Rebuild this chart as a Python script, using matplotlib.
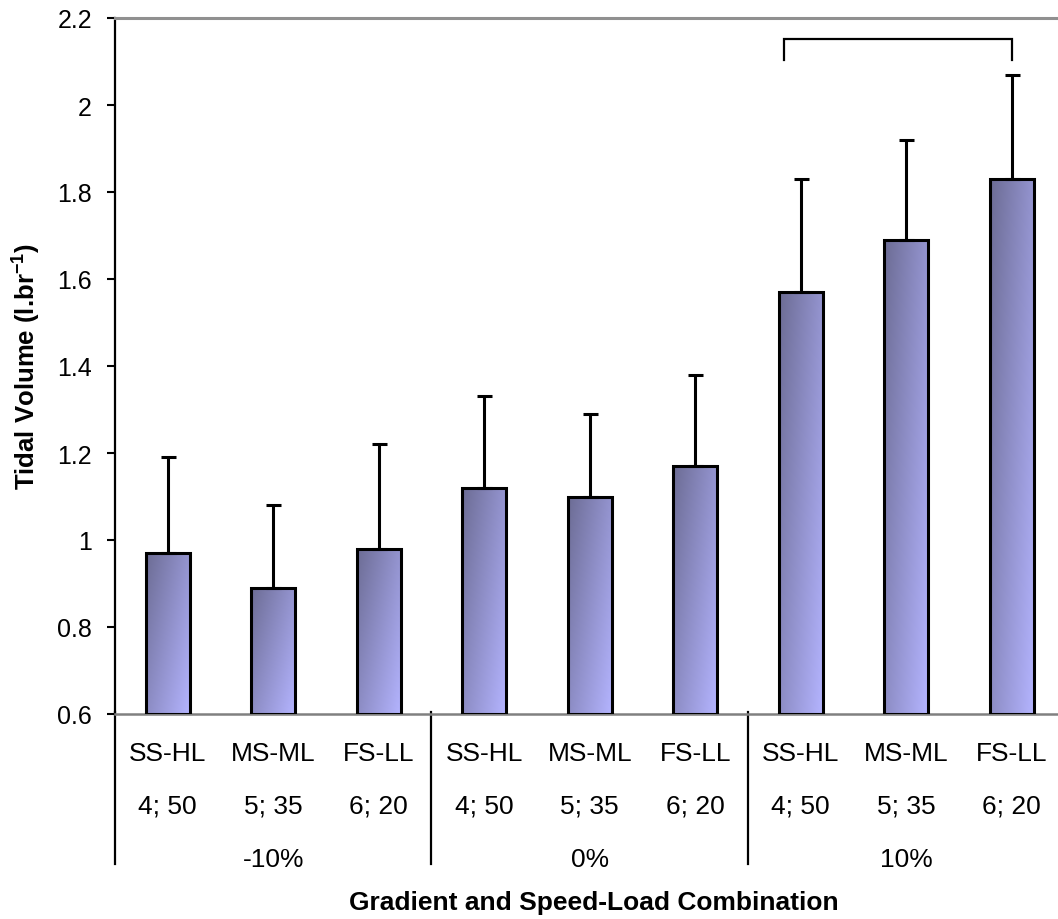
import numpy as np
import matplotlib
matplotlib.use("Agg")
import matplotlib.pyplot as plt
import matplotlib.transforms as mtransforms

plt.rcParams['font.family'] = ['Liberation Sans', 'DejaVu Sans']
plt.rcParams['mathtext.fontset'] = 'custom'
plt.rcParams['mathtext.rm'] = 'Liberation Sans:bold'
plt.rcParams['mathtext.it'] = 'Liberation Sans:bold'
plt.rcParams['mathtext.bf'] = 'Liberation Sans:bold'

# ---- data ----
conditions = ["SS-HL", "MS-ML", "FS-LL", "SS-HL", "MS-ML", "FS-LL", "SS-HL", "MS-ML", "FS-LL"]
speed_load = ["4; 50", "5; 35", "6; 20", "4; 50", "5; 35", "6; 20", "4; 50", "5; 35", "6; 20"]
gradients = ["-10%", "0%", "10%"]
means = [0.97, 0.89, 0.98, 1.12, 1.10, 1.17, 1.57, 1.69, 1.83]
sds = [0.22, 0.19, 0.24, 0.21, 0.19, 0.21, 0.26, 0.23, 0.24]
yticks = [0.6, 0.8, 1.0, 1.2, 1.4, 1.6, 1.8, 2.0, 2.2]
ytick_labels = ["0.6", "0.8", "1", "1.2", "1.4", "1.6", "1.8", "2", "2.2"]
bracket_x = [5.84, 8.0]
bracket_y = [2.103, 2.152]

W, H = 1058, 920
fig = plt.figure(figsize=(W / 100, H / 100), dpi=100)
ax_left, ax_right, ax_top, ax_bottom = 115, 1064.5, 19, 715
ax = fig.add_axes([ax_left / W, 1 - ax_bottom / H, (ax_right - ax_left) / W, (ax_bottom - ax_top) / H])

x = np.arange(len(means))
bar_w = 0.417
ymin, ymax = 0.6, 2.2

dark = np.array([108, 108, 148]) / 255.0
light = np.array([180, 180, 255]) / 255.0
nu, nv = 64, 256
u = np.linspace(0, 1, nu)[None, :]
v = np.linspace(0, 1, nv)[:, None]
t = np.clip(0.55 * u + 0.45 * v, 0, 1)
grad = dark[None, None, :] * (1 - t[..., None]) + light[None, None, :] * t[..., None]

bars = ax.bar(x, np.array(means) - ymin, bottom=ymin, width=bar_w,
              facecolor='none', edgecolor='black', linewidth=2.2, zorder=3)
for b in bars:
    x0, y0 = b.get_x(), b.get_y()
    im = ax.imshow(grad, extent=(x0, x0 + b.get_width(), y0, y0 + b.get_height()),
                   origin='upper', aspect='auto', zorder=2, interpolation='bilinear')
    im.set_clip_path(b)

ax.errorbar(x, means, yerr=[np.zeros(len(sds)), sds], fmt='none', ecolor='black',
            elinewidth=2.2, capsize=5.4, capthick=2.2, zorder=2.5)

ax.set_xlim(-0.5, len(means) - 0.5)
ax.set_ylim(ymin, ymax)
ax.set_yticks(yticks)
ax.set_yticklabels(ytick_labels)
ax.tick_params(axis='y', direction='out', length=6, width=1.5, pad=10.5, labelsize=18, colors='black')
ax.tick_params(axis='x', bottom=False, labelbottom=False)

ax.spines['left'].set_color('black')
ax.spines['left'].set_linewidth(1.6)
ax.spines['bottom'].set_color('#808080')
ax.spines['bottom'].set_linewidth(1.8)
ax.spines['top'].set_color('#909090')
ax.spines['top'].set_linewidth(2.2)
ax.spines['right'].set_visible(False)

# bracket
ax.plot([bracket_x[0], bracket_x[0], bracket_x[1], bracket_x[1]],
        [bracket_y[0], bracket_y[1], bracket_y[1], bracket_y[0]],
        color='black', linewidth=1.6, zorder=4, solid_joinstyle='miter')

# category axis labels
trans = mtransforms.blended_transform_factory(ax.transData, ax.transAxes)
axh = ax_bottom - ax_top
def ay(py):
    return (ax_bottom - py) / axh

for i in range(len(means)):
    ax.text(x[i], ay(754), conditions[i], transform=trans, ha='center', va='center', fontsize=19)
    ax.text(x[i], ay(807), speed_load[i], transform=trans, ha='center', va='center', fontsize=19)
for g, name in enumerate(gradients):
    ax.text(g * 3 + 1, ay(860), name, transform=trans, ha='center', va='center', fontsize=19)
for sx in [-0.5, 2.5, 5.5, 8.5]:
    ax.plot([sx, sx], [ay(713), ay(865)], transform=trans, color='black', linewidth=1.6, clip_on=False)

fig.text((115 + 1064.5) / 2 / W + 0.004, 1 - 903 / H, "Gradient and Speed-Load Combination",
         ha='center', va='center', fontsize=19, fontweight='bold')
fig.text(27 / W, 1 - 367 / H, r"Tidal Volume (l.br$^{-1}$)", rotation=90,
         ha='center', va='center', fontsize=18.5, fontweight='bold')

fig.savefig("out.png", dpi=100)
